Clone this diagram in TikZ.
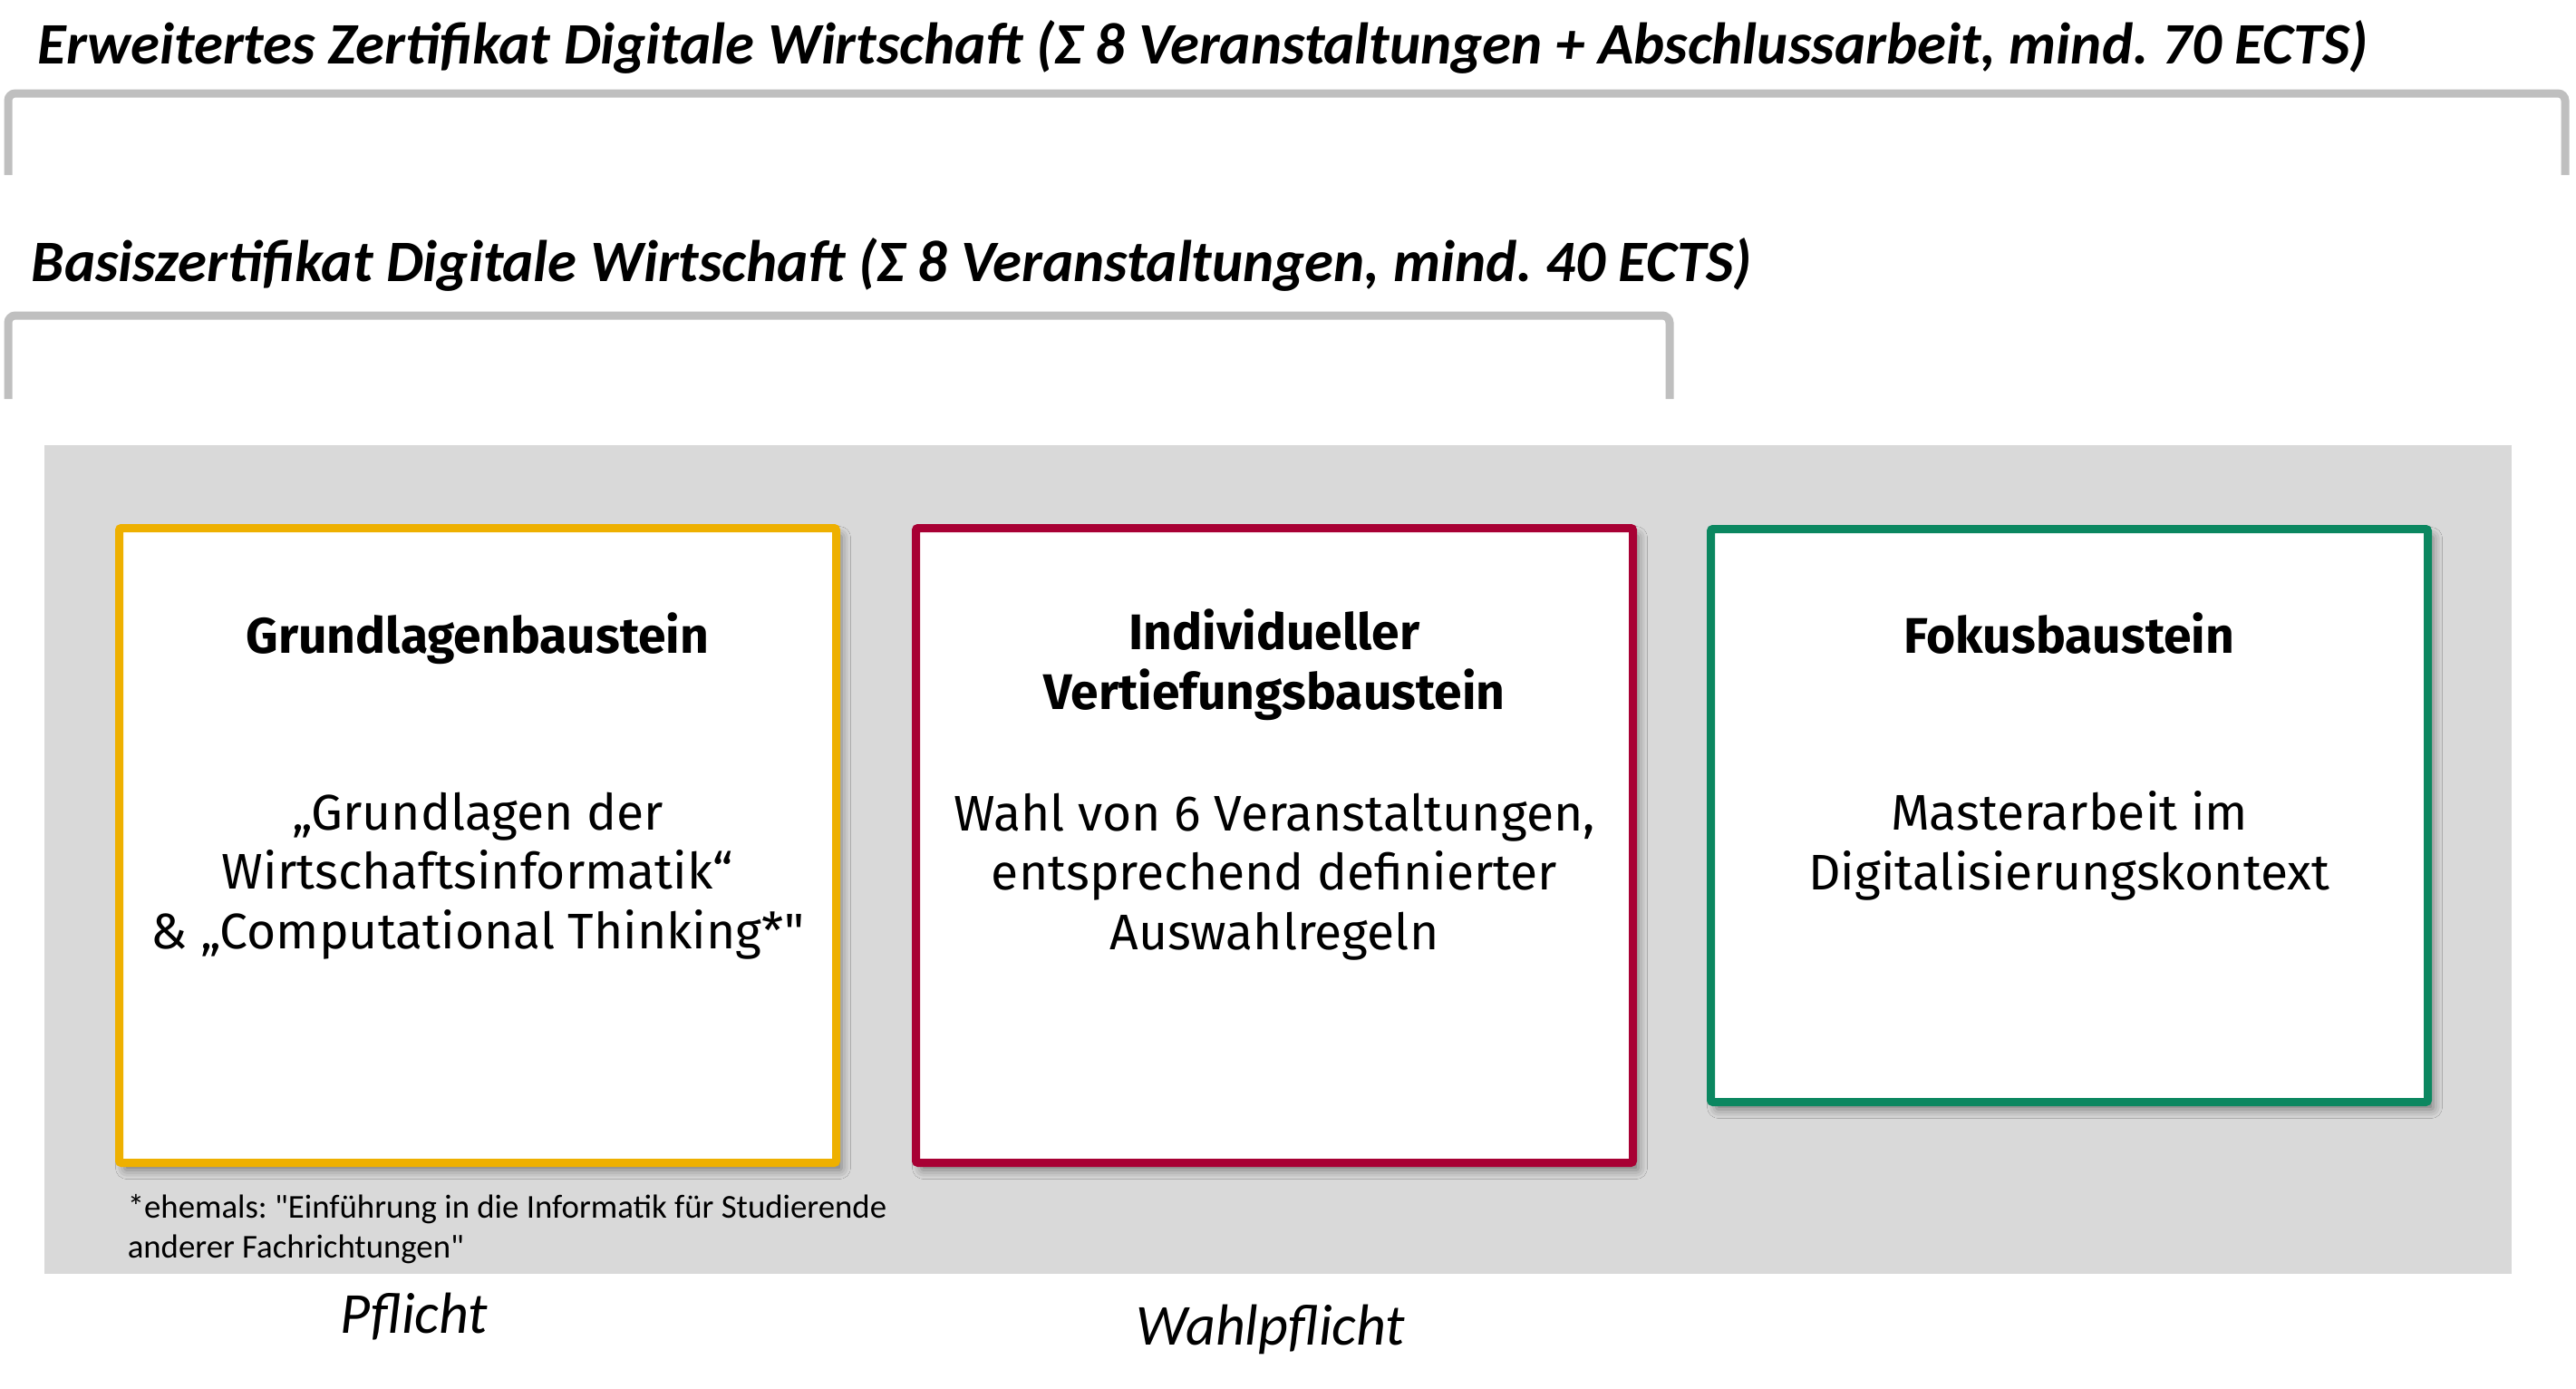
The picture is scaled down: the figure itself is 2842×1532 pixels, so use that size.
\documentclass[tikz,border=0pt]{standalone}
\usepackage{fontspec}
\setmainfont{Carlito}
\newfontfamily\boxfont{Fira Sans}
\newfontfamily\fussfont{Carlito}
\usetikzlibrary{shadows.blur}
\definecolor{gelb}{HTML}{EEB000}
\definecolor{rot}{HTML}{A80034}
\definecolor{gruen}{HTML}{0B8760}
\definecolor{hell}{HTML}{D9D9D9}
\definecolor{klammer}{HTML}{BFBFBF}
\begin{document}
\begin{tikzpicture}[x=0.25pt,y=-0.25pt,
    baustein/.style={draw=#1,line width=2.25pt,fill=white,minimum width=197.75pt,rounded corners=0.6pt,
        blur shadow={shadow xshift=1.5pt,shadow yshift=-2pt,shadow blur radius=2.5pt,shadow opacity=45}},
    klammerlinie/.style={draw=klammer,line width=2.25pt,rounded corners=2pt},
    titel/.style={anchor=base west,inner sep=0pt,font=\fontsize{16.2}{19}\selectfont\bfseries\itshape},
    kopf/.style={anchor=base,inner sep=0pt,align=center,font=\boxfont\bfseries\fontsize{13.8}{16.4}\selectfont},
    inhalt/.style={anchor=base,inner sep=0pt,align=center,font=\boxfont\fontsize{13.8}{16.3}\selectfont},
    art/.style={anchor=base,inner sep=0pt,font=\fontsize{16}{19}\selectfont\itshape}]
    \useasboundingbox (0,0) rectangle (2842,1532);
    \node[titel] (erweitert) at (41,70) {Erweitertes Zertifikat Digitale Wirtschaft (Σ 8 Veranstaltungen + Abschlussarbeit, mind.\ 70 ECTS)};
    \draw[klammerlinie] (9,193) -- (9,103) -- (2830,103) -- (2830,193);
    \node[titel] (basis) at (34,310) {Basiszertifikat Digitale Wirtschaft (Σ 8 Veranstaltungen, mind.\ 40 ECTS)};
    \draw[klammerlinie] (9,440) -- (9,348) -- (1842,348) -- (1842,440);
    \fill[hell] (49,491) rectangle (2771,1405);
    \node[baustein=gelb,minimum height=175pt] (grund) at (527,932.5) {};
    \node[baustein=rot,minimum height=175pt] (vertief) at (1406,932.5) {};
    \node[baustein=gruen,minimum height=158pt] (fokus) at (2283,899.5) {};
    % mehrzeilige Knoten: base = letzte Zeile
    \node[kopf] (grundkopf) at (527,720) {Grundlagenbaustein};
    \node[inhalt] (grundtext) at (527,1046) {„Grundlagen der\\Wirtschaftsinformatik“\\\& „Computational Thinking*"};
    \node[kopf] (vertiefkopf) at (1406,782) {Individueller\\Vertiefungsbaustein};
    \node[inhalt] (vertieftext) at (1406,1047) {Wahl von 6 Veranstaltungen,\\entsprechend definierter\\Auswahlregeln};
    \node[kopf] (fokuskopf) at (2283,720) {Fokusbaustein};
    \node[inhalt] (fokustext) at (2283,981) {Masterarbeit im\\Digitalisierungskontext};
    \node[anchor=base west,inner sep=0pt,align=left,font=\fussfont\fontsize{9.2}{11}\selectfont] (fussnote) at (140,1387) {*ehemals:\ "Einführung in die Informatik für Studierende\\anderer Fachrichtungen"};
    \node[art] (pflicht) at (457,1470) {Pflicht};
    \node[art] (wahlpflicht) at (1402,1483) {Wahlpflicht};
\end{tikzpicture}
\end{document}
